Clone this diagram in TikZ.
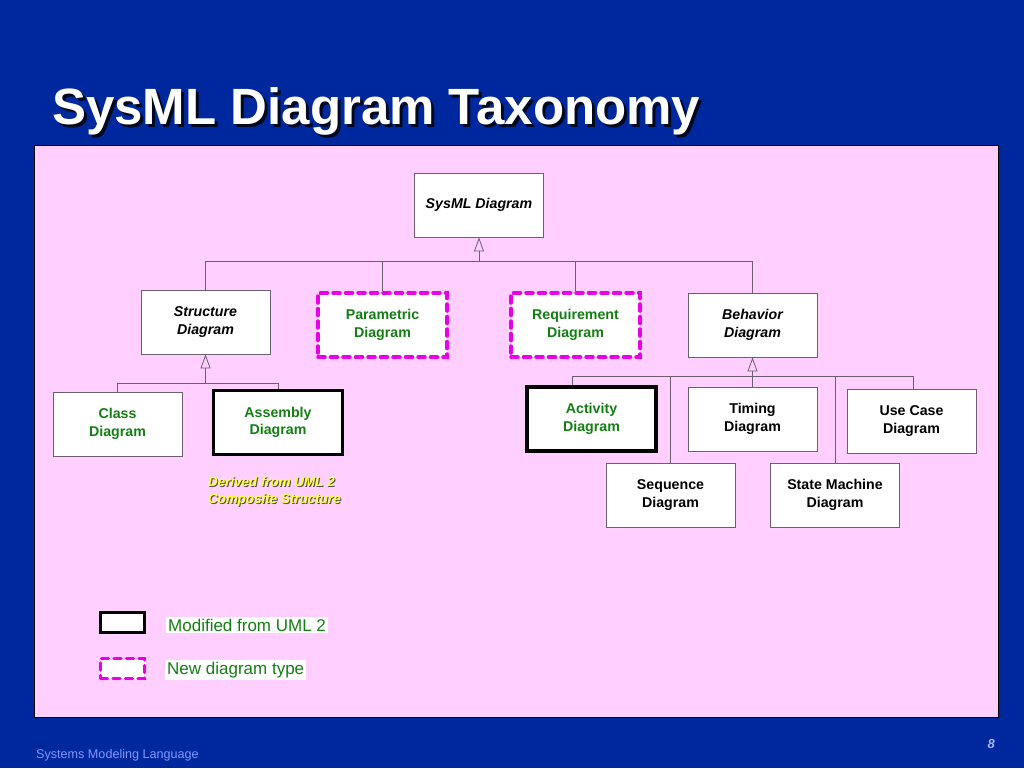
\documentclass[tikz,border=0pt]{standalone}
\usepackage{fontspec}
\setmainfont{Liberation Sans}
\usetikzlibrary{arrows.meta}
\definecolor{bgblue}{RGB}{0,40,158}
\definecolor{panelpink}{RGB}{255,208,255}
\definecolor{boxline}{RGB}{110,95,110}
\definecolor{txtgreen}{RGB}{20,125,20}
\definecolor{dashmag}{RGB}{232,0,232}
\definecolor{footblue}{RGB}{130,150,255}
\definecolor{derivyellow}{RGB}{255,255,60}
\tikzset{
  diag/.style={draw=boxline, line width=0.8pt, fill=white, minimum width=129pt, minimum height=64pt,
    inner sep=0pt, align=center, font=\fontsize{14.2}{17.5}\selectfont\bfseries},
  abstr/.style={diag, font=\fontsize{14.2}{17.5}\selectfont\bfseries\itshape},
  greentxt/.style={text=txtgreen},
  modified/.style={draw=black, line width=3.5pt},
  newtype/.style={draw=dashmag, line width=3.5pt, dash pattern=on 7pt off 5.5pt, line cap=round},
  conn/.style={draw=boxline, line width=0.8pt},
  gen/.style={conn, -{Triangle[open, length=14pt, width=10pt, line width=0.8pt]}},
}
\begin{document}
\begin{tikzpicture}[x=1pt,y=-1pt]
\useasboundingbox (0,0) rectangle (1024,768);
\fill[bgblue] (0,0) rectangle (1024,768);
\draw[fill=panelpink, draw=black, line width=1pt] (34,145) rectangle (998,717);
% title
\node[anchor=base west, inner sep=0pt, text=black!80!bgblue, font=\fontsize{51}{60}\selectfont\bfseries] (titleshadow) at (55,127) {SysML Diagram Taxonomy};
\node[anchor=base west, inner sep=0pt, text=white, font=\fontsize{51}{60}\selectfont\bfseries] (title) at (52,124) {SysML Diagram Taxonomy};

% nodes
\node[abstr] (sysml) at (479,205) {SysML Diagram};
\node[abstr] (structure) at (205.5,322) {Structure\\Diagram};
\node[diag, greentxt, newtype] (param) at (382.5,325) {Parametric\\Diagram};
\node[diag, greentxt, newtype] (req) at (575.5,325) {Requirement\\Diagram};
\node[abstr] (behavior) at (752.5,325) {Behavior\\Diagram};
\node[diag, greentxt] (class) at (117.5,424) {Class\\Diagram};
\node[diag, greentxt, modified] (assembly) at (278,422.5) {Assembly\\Diagram};
\node[diag, greentxt, modified] (activity) at (591.5,419) {Activity\\Diagram};
\node[diag] (timing) at (752.5,419) {Timing\\Diagram};
\node[diag] (usecase) at (911.5,421) {Use Case\\Diagram};
\node[diag] (sequence) at (670.5,495) {Sequence\\Diagram};
\node[diag] (statem) at (835,495) {State Machine\\Diagram};

% junctions
\coordinate (j0) at (479,261);
\coordinate (j1) at (205.5,383);
\coordinate (j2) at (752.5,376);

\draw[gen] (j0) -- (sysml.south);
\draw[conn] (structure.north) |- (j0);
\draw[conn] (param.north) |- (j0);
\draw[conn] (req.north) |- (j0);
\draw[conn] (behavior.north) |- (j0);

\draw[gen] (j1) -- (structure.south);
\draw[conn] (class.north) |- (j1);
\draw[conn] (assembly.north) |- (j1);

\draw[gen] (j2) -- (behavior.south);
\draw[conn] ([xshift=-19.5pt]activity.north) |- (j2);
\draw[conn] (sequence.north) |- (j2);
\draw[conn] (timing.north) |- (j2);
\draw[conn] (statem.north) |- (j2);
\draw[conn] ([xshift=1.5pt]usecase.north) |- (j2);

% derived note
\node[anchor=north west, inner sep=0pt, align=left, text=black!70, font=\fontsize{13.4}{17}\selectfont\bfseries\itshape] (derivshadow) at (209,478) {Derived from UML 2\\Composite Structure};
\node[anchor=north west, inner sep=0pt, align=left, text=derivyellow, font=\fontsize{13.4}{17}\selectfont\bfseries\itshape] (deriv) at (208,477) {Derived from UML 2\\Composite Structure};

% legend
\node[draw=black, line width=3.5pt, fill=white, minimum width=44pt, minimum height=20pt, inner sep=0pt] (legmod) at (122.5,622.5) {};
\node[newtype, fill=white, minimum width=44pt, minimum height=20pt, inner sep=0pt] (legnew) at (122.5,668.5) {};
\node[anchor=west, fill=white, text=txtgreen, inner sep=2pt, font=\fontsize{17}{20}\selectfont] (legmodtxt) at (166,625) {Modified from UML 2};
\node[anchor=west, fill=white, text=txtgreen, inner sep=2pt, font=\fontsize{17}{20}\selectfont] (legnewtxt) at (165,670) {New diagram type};

% footer
\node[anchor=base west, inner sep=0pt, text=footblue, font=\fontsize{12.6}{14}\selectfont] (foot) at (36,758) {Systems Modeling Language};
\node[anchor=base east, inner sep=0pt, text=footblue!70!white, font=\fontsize{13}{15}\selectfont\bfseries\itshape] (pagenum) at (995,748) {8};
\end{tikzpicture}
\end{document}
